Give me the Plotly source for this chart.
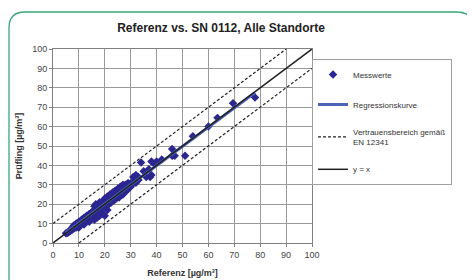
import plotly.graph_objects as go

# ---- data ----
ref_x = [5, 5.5, 6, 6.5, 7, 7, 7.5, 8, 8, 8.5, 9, 9, 9.5, 10, 10, 10.5, 11, 11, 11.5, 12,
         12, 12.5, 13, 13, 13.5, 14, 14, 14.5, 15, 15, 15.5, 16, 16, 16, 16.5, 17, 17, 17.5,
         18, 18, 18.5, 19, 19, 19.5, 20, 20, 20, 20.5, 21, 21, 21.5, 22, 22, 22.5, 23, 23,
         23.5, 24, 24, 24.5, 25, 25, 25.5, 26, 26, 26.5, 27, 27, 27.5, 28, 28, 29, 29, 30,
         30, 31, 31, 32, 32, 33, 34, 35, 36, 37, 37.5, 38, 38, 39, 40, 42, 46, 46, 47, 51,
         54, 60, 63.5, 69.5, 78, 14, 16, 19, 12, 10, 21,
         6, 7.5, 9, 10.5, 12, 13.5, 15, 16.5, 18, 19.5, 21, 22.5, 24, 25.5, 27, 28.5,
         8, 11, 13, 15, 17, 19, 21, 23, 25, 27, 29, 31, 33, 18, 20, 22, 24, 26]
pruef_y = [5, 5.2, 6, 6, 7, 6.5, 8, 7.5, 9, 8, 9, 10, 8.5, 10, 11, 9.5, 10, 12, 11, 13,
           11, 12, 12, 14, 13, 13, 15, 14, 14, 16, 15, 15, 17, 19, 20, 16, 13, 17,
           18, 14, 17, 19, 21, 18, 20, 22, 14, 19, 21, 24, 20, 22, 25, 21, 23, 26,
           22, 24, 27, 23, 25, 28, 24, 26, 29, 25, 27, 30, 26, 28, 30, 28, 31, 29,
           30, 31, 34, 31, 35, 34, 41.5, 37, 34, 38, 34, 35, 42, 41, 42, 43, 48.5, 45, 45, 45,
           55, 60, 64.5, 72, 75, 11, 12, 15, 9.5, 8, 17,
           5.5, 7, 8, 9.5, 11, 12.5, 13.5, 15, 16.5, 18, 19.5, 21, 22.5, 23.5, 25, 27,
           8.5, 11.5, 13.5, 15.5, 18, 20, 22, 24, 26.5, 28, 29.5, 32, 32.5, 21, 23, 24.5, 26, 27.5]

reg_x = [5, 78]
reg_y = [5.3, 77.5]

conf_up_x = [0, 90]
conf_up_y = [10, 100]
conf_lo_x = [10, 100]
conf_lo_y = [0, 90]

diag_x = [0, 100]
diag_y = [0, 100]

ticks = [0, 10, 20, 30, 40, 50, 60, 70, 80, 90, 100]

# ---- layout geometry (pixels; page body adds an 8px offset) ----
OFF = 8
W, H = 475, 280
L, R, T, B = 53 - OFF, 312 - OFF, 49 - OFF, 243 - OFF
pw, ph = R - L, B - T


def px(x):
    return (x - OFF - L) / pw


def py(y):
    return (B - (y - OFF)) / ph


fig = go.Figure()

fig.add_trace(go.Scatter(
    x=ref_x, y=pruef_y, mode="markers", name="Messwerte",
    marker=dict(symbol="diamond", size=6.5, color="#2b2690"),
    legendgroup="a"))
fig.add_trace(go.Scatter(
    x=reg_x, y=reg_y, mode="lines", name="Regressionskurve",
    line=dict(color="#4d63b5", width=3), legendgroup="b"))
fig.add_trace(go.Scatter(
    x=conf_up_x, y=conf_up_y, mode="lines",
    name="Vertrauensbereich gemäß<br>EN 12341",
    line=dict(color="#222222", width=1.2, dash="3px,2px"), legendgroup="c"))
fig.add_trace(go.Scatter(
    x=conf_lo_x, y=conf_lo_y, mode="lines", showlegend=False,
    line=dict(color="#222222", width=1.2, dash="3px,2px"), legendgroup="c"))
fig.add_trace(go.Scatter(
    x=diag_x, y=diag_y, mode="lines", name="y = x",
    line=dict(color="#222222", width=1.5), legendgroup="d"))

# rounded green frame
x0, x1, y0, y1 = px(9), px(473), py(300), py(12)
rx, ry = 16 / pw, 16 / ph
path = (f"M {x0+rx} {y1} L {x1-rx} {y1} Q {x1} {y1} {x1} {y1-ry} "
        f"L {x1} {y0+ry} Q {x1} {y0} {x1-rx} {y0} L {x0+rx} {y0} "
        f"Q {x0} {y0} {x0} {y0+ry} L {x0} {y1-ry} Q {x0} {y1} {x0+rx} {y1} Z")
fig.add_shape(type="path", path=path, xref="paper", yref="paper",
              line=dict(color="#3aa57a", width=1.3), layer="below")

axis_common = dict(
    range=[0, 100], tickvals=ticks, showgrid=True, gridcolor="#9a9a9a",
    gridwidth=1, zeroline=False, showline=True, linecolor="#808080",
    linewidth=1, mirror=True, ticks="outside", ticklen=3, tickcolor="#808080",
    automargin=False,
    tickfont=dict(family="Liberation Sans, Arial", size=9, color="#444444"),
)

fig.update_xaxes(**axis_common,
                 title=dict(text="<b>Referenz [µg/m³]</b>", standoff=10,
                            font=dict(family="Liberation Sans, Arial", size=9, color="#333333")))
fig.update_yaxes(**axis_common,
                 title=dict(text="<b>Prüfling [µg/m³]</b>", standoff=8,
                            font=dict(family="Liberation Sans, Arial", size=9, color="#333333")))

fig.update_layout(
    width=W, height=H,
    margin=dict(l=L, r=W - R, t=T, b=H - B, autoexpand=False),
    paper_bgcolor="white", plot_bgcolor="white",
    title=dict(text="<b>Referenz vs. SN 0112, Alle Standorte</b>",
               xref="container", x=(221 - OFF) / W, xanchor="center",
               yref="container", y=1 - (28 - OFF) / H, yanchor="middle",
               font=dict(family="Liberation Sans, Arial", size=12, color="#222222")),
    legend=dict(x=px(312), y=py(59), xanchor="left", yanchor="top",
                bordercolor="#a0a0a0", borderwidth=1, bgcolor="white",
                tracegroupgap=11,
                font=dict(family="Liberation Sans, Arial", size=8, color="#333333")),
    showlegend=True,
)

fig.write_html("out.html")
